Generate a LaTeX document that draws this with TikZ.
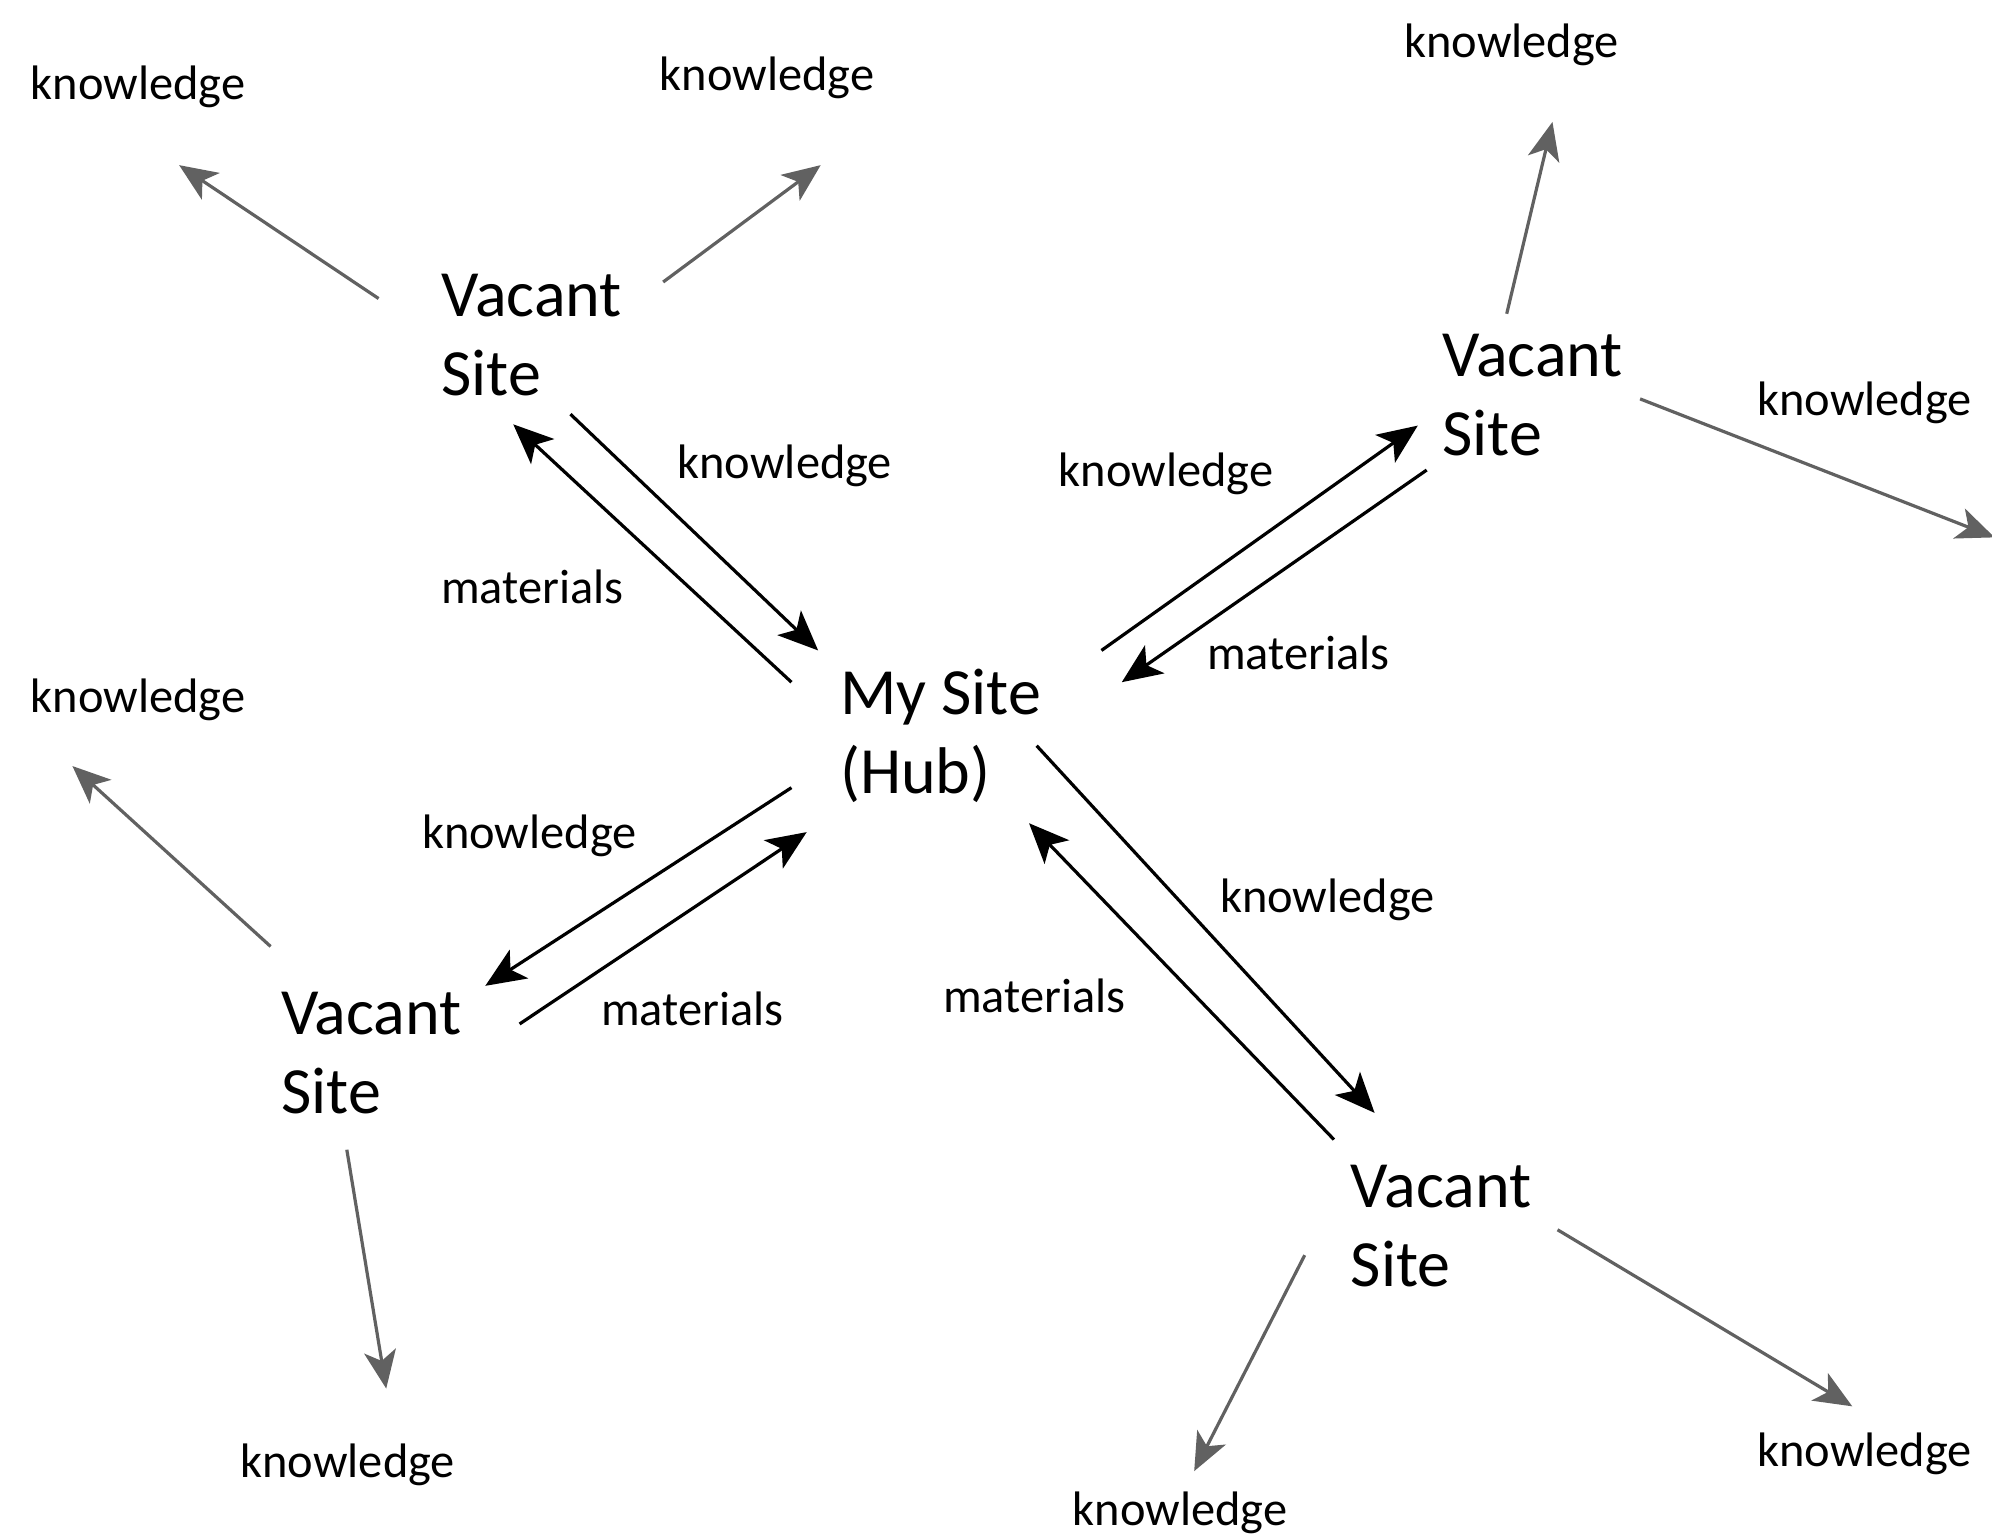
\documentclass[tikz,border=0pt]{standalone}
\usepackage{fontspec}
\setmainfont{Carlito}
\usetikzlibrary{arrows.meta}
\begin{document}
\begin{tikzpicture}[x=0.6352pt,y=-0.6352pt,
  site/.style={inner sep=0pt,anchor=west,align=left,font=\fontsize{33}{39.4}\selectfont},
  lbl/.style={inner sep=0pt,anchor=west,font=\fontsize{24.2}{29}\selectfont},
  flow/.style={line width=1.6pt,draw=black,-{Stealth[length=20pt,width=17pt,inset=5pt]}},
  spread/.style={line width=1.6pt,draw=black!62,-{Stealth[length=19pt,width=16pt,inset=5pt]}}]
\useasboundingbox (0,0) rectangle (1568,1211);

% sites
\node[site] (hub) at (661,579) {My Site\\(Hub)};
\node[site] (vtl) at (347,264) {Vacant\\Site};
\node[site] (vtr) at (1135,311) {Vacant\\Site};
\node[site] (vl)  at (221,829) {Vacant\\Site};
\node[site] (vbr) at (1063,965) {Vacant\\Site};

% outer knowledge labels
\node[lbl] (k1)  at (24,68)    {knowledge};
\node[lbl] (k2)  at (519,61)   {knowledge};
\node[lbl] (k3)  at (1105,35)  {knowledge};
\node[lbl] (k4)  at (1383,317) {knowledge};
\node[lbl] (k9)  at (24,551)   {knowledge};
\node[lbl] (k14) at (189,1153) {knowledge};
\node[lbl] (k15) at (844,1191) {knowledge};
\node[lbl] (k16) at (1383,1144){knowledge};

% flow labels between hub and sites
\node[lbl] (f1) at (533,367) {knowledge};
\node[lbl] (f2) at (347,462) {materials};
\node[lbl] (f3) at (833,373) {knowledge};
\node[lbl] (f4) at (950,514) {materials};
\node[lbl] (f5) at (332,658) {knowledge};
\node[lbl] (f6) at (473,794) {materials};
\node[lbl] (f7) at (960,708) {knowledge};
\node[lbl] (f8) at (742,784) {materials};

% connector end points
\coordinate (a1) at (298,235);  \coordinate (a2) at (141,130);
\coordinate (b1) at (522,222);  \coordinate (b2) at (646,130);
\coordinate (c1) at (1186,247); \coordinate (c2) at (1222,96);
\coordinate (d1) at (1291,314); \coordinate (d2) at (1570,423);
\coordinate (e1) at (213,745);  \coordinate (e2) at (57,603);
\coordinate (g1) at (273,905);  \coordinate (g2) at (304,1093);
\coordinate (h1) at (1027,988); \coordinate (h2) at (940,1158);
\coordinate (j1) at (1226,968); \coordinate (j2) at (1458,1107);

\coordinate (i1) at (449,326);  \coordinate (i2) at (644,512);
\coordinate (m1) at (623,537);  \coordinate (m2) at (404,334);
\coordinate (n1) at (867,512);  \coordinate (n2) at (1116,335);
\coordinate (o1) at (1123,370); \coordinate (o2) at (883,537);
\coordinate (p1) at (623,620);  \coordinate (p2) at (382,776);
\coordinate (q1) at (409,806);  \coordinate (q2) at (635,655);
\coordinate (r1) at (816,587);  \coordinate (r2) at (1082,876);
\coordinate (s1) at (1050,897); \coordinate (s2) at (810,648);

% knowledge spreading outward
\draw[spread] (a1) -- (a2);
\draw[spread] (b1) -- (b2);
\draw[spread] (c1) -- (c2);
\draw[spread] (d1) -- (d2);
\draw[spread] (e1) -- (e2);
\draw[spread] (g1) -- (g2);
\draw[spread] (h1) -- (h2);
\draw[spread] (j1) -- (j2);

% exchange with the hub
\draw[flow] (i1) -- (i2);
\draw[flow] (m1) -- (m2);
\draw[flow] (n1) -- (n2);
\draw[flow] (o1) -- (o2);
\draw[flow] (p1) -- (p2);
\draw[flow] (q1) -- (q2);
\draw[flow] (r1) -- (r2);
\draw[flow] (s1) -- (s2);
\end{tikzpicture}
\end{document}
